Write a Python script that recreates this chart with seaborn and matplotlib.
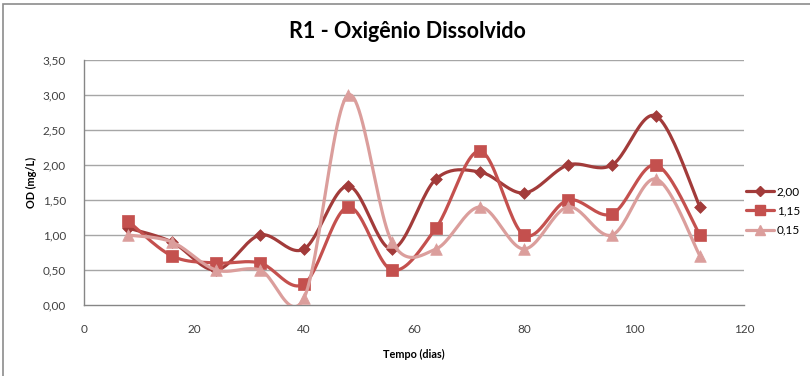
import numpy as np
import pandas as pd
import matplotlib
matplotlib.use("Agg")
import matplotlib.pyplot as plt
import seaborn as sns
from matplotlib.lines import Line2D
from matplotlib.patches import Rectangle

# Dissolved oxygen readings for reactor R1
dias = [8, 16, 24, 32, 40, 48, 56, 64, 72, 80, 88, 96, 104, 112]
od_200 = [1.1, 0.9, 0.5, 1.0, 0.8, 1.7, 0.8, 1.8, 1.9, 1.6, 2.0, 2.0, 2.7, 1.4]
od_115 = [1.2, 0.7, 0.6, 0.6, 0.3, 1.4, 0.5, 1.1, 2.2, 1.0, 1.5, 1.3, 2.0, 1.0]
od_015 = [1.0, 0.9, 0.5, 0.5, 0.1, 3.0, 0.9, 0.8, 1.4, 0.8, 1.4, 1.0, 1.8, 0.7]
series_labels = ["2,00", "1,15", "0,15"]
y_ticks = [0.0, 0.5, 1.0, 1.5, 2.0, 2.5, 3.0, 3.5]
x_ticks = [0, 20, 40, 60, 80, 100, 120]

colors = {"2,00": "#A23B3A", "1,15": "#C4504E", "0,15": "#DB9E9C"}
markers = {"2,00": "D", "1,15": "s", "0,15": "^"}
msizes = {"2,00": 36, "1,15": 80, "0,15": 70}

sns.set_theme(style="white")
plt.rcParams["font.family"] = ["Lato", "DejaVu Sans"]


def smooth(xs, ys, n=24):
    """Catmull-Rom curve through the points (spreadsheet-style smoothed line)."""
    p = np.column_stack([xs, ys]).astype(float)
    p = np.vstack([p[0], p, p[-1]])
    out = []
    t = np.linspace(0, 1, n, endpoint=False)[:, None]
    for i in range(1, len(p) - 2):
        p0, p1, p2, p3 = p[i - 1], p[i], p[i + 1], p[i + 2]
        c1 = p1 + (p2 - p0) / 6
        c2 = p2 - (p3 - p1) / 6
        seg = ((1 - t) ** 3) * p1 + 3 * ((1 - t) ** 2) * t * c1 + 3 * (1 - t) * t ** 2 * c2 + t ** 3 * p2
        out.append(seg)
    out.append(p[-2][None, :])
    c = np.vstack(out)
    return c[:, 0], c[:, 1]


pts = pd.DataFrame({
    "Tempo": dias * 3,
    "OD": od_200 + od_115 + od_015,
    "serie": [series_labels[0]] * len(dias) + [series_labels[1]] * len(dias) + [series_labels[2]] * len(dias),
})

curves = []
for lab, vals in zip(series_labels, [od_200, od_115, od_015]):
    cx, cy = smooth(dias, vals)
    curves.append(pd.DataFrame({"Tempo": cx, "OD": cy, "serie": lab, "ordem": np.arange(len(cx))}))
curves = pd.concat(curves, ignore_index=True)

fig = plt.figure(figsize=(8.1, 3.76), dpi=100)
ax = fig.add_axes([84 / 810, 1 - 305 / 376, (744 - 84) / 810, (305 - 60) / 376])

# chart frame
fig.patches.append(Rectangle((3 / 810, -0.1), 1.2, 1 - 4 / 376 + 0.1, transform=fig.transFigure,
                             fill=False, edgecolor="#8C8C8C", linewidth=1.2, zorder=0))

for y in y_ticks[1:]:
    ax.axhline(y, color="#A6A6A6", linewidth=1.0, zorder=0)

# series drawn in order; later ones sit on top
for k, lab in enumerate(series_labels):
    sub = curves[curves["serie"] == lab]
    sns.lineplot(data=sub, x="Tempo", y="OD", sort=False, estimator=None, ax=ax,
                 color=colors[lab], linewidth=2.3, legend=False, zorder=2 + 2 * k)
    sp = pts[pts["serie"] == lab]
    sns.scatterplot(data=sp, x="Tempo", y="OD", ax=ax, marker=markers[lab], s=msizes[lab],
                    color=colors[lab], edgecolor=colors[lab], linewidth=0.5, legend=False,
                    zorder=3 + 2 * k)

ax.set_xlim(0, 120)
ax.set_ylim(0, 3.5)
ax.set_xticks(x_ticks)
ax.set_xticklabels([str(v) for v in x_ticks])
ax.set_yticks(y_ticks)
ax.set_yticklabels([f"{v:.2f}".replace(".", ",") for v in y_ticks])
ax.tick_params(axis="both", labelsize=8.5, colors="#404040", length=0)
ax.tick_params(axis="y", pad=13)
ax.tick_params(axis="x", pad=14)

for side in ["top", "right"]:
    ax.spines[side].set_visible(False)
for side in ["left", "bottom"]:
    ax.spines[side].set_color("#868686")
    ax.spines[side].set_linewidth(1.0)

ax.set_xlabel("Tempo (dias)", fontsize=7.8, fontweight="bold", color="#000000", labelpad=10)
ax.set_ylabel("OD (mg/L)", fontsize=7.8, fontweight="bold", color="#000000", labelpad=4)
fig.text(407 / 810, 1 - 31 / 376, "R1 - Oxigênio Dissolvido", ha="center", va="center",
         fontsize=15.5, fontweight="bold", color="#000000")

handles = [Line2D([0], [0], color=colors[l], marker=markers[l], linewidth=2.3,
                  markersize={"2,00": 5, "1,15": 7, "0,15": 7}[l]) for l in series_labels]
leg = fig.legend(handles, series_labels, loc="center left", bbox_to_anchor=(746 / 810, 1 - 211 / 376),
                 frameon=False, fontsize=8.5, handlelength=2.4, handletextpad=0.2, labelspacing=0.7,
                 borderaxespad=0, borderpad=0)
for t in leg.get_texts():
    t.set_color("#000000")

fig.savefig("out.png", dpi=100)
